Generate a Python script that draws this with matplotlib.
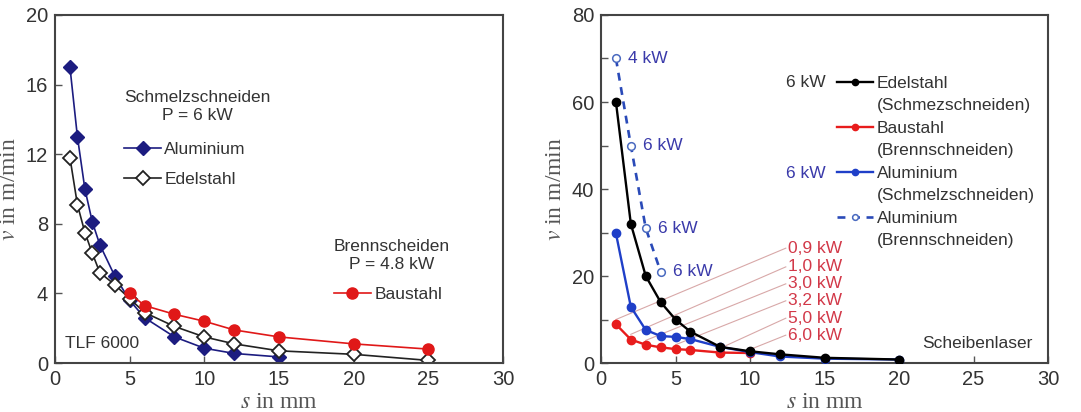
import matplotlib.pyplot as plt
from matplotlib.lines import Line2D

plt.rcParams['font.family'] = ['Liberation Sans', 'DejaVu Sans']
plt.rcParams['mathtext.fontset'] = 'stix'

# ---- left panel data (TLF 6000) ----
s_alu = [1, 1.5, 2, 2.5, 3, 4, 5, 6, 8, 10, 12, 15]
v_alu = [17.0, 13.0, 10.0, 8.1, 6.8, 5.0, 3.6, 2.6, 1.5, 0.85, 0.55, 0.35]
s_edel = [1, 1.5, 2, 2.5, 3, 4, 5, 6, 8, 10, 12, 15, 20, 25]
v_edel = [11.8, 9.1, 7.5, 6.3, 5.2, 4.5, 3.7, 2.9, 2.1, 1.5, 1.1, 0.7, 0.5, 0.15]
s_bau = [5, 6, 8, 10, 12, 15, 20, 25]
v_bau = [4.0, 3.3, 2.8, 2.4, 1.9, 1.5, 1.1, 0.8]

# ---- right panel data (Scheibenlaser) ----
s_edel_r = [1, 2, 3, 4, 5, 6, 8, 10, 12, 15, 20]
v_edel_r = [60, 32, 20, 14, 10, 7.2, 3.7, 2.7, 2.0, 1.2, 0.8]
s_bau_r = [1, 2, 3, 4, 5, 6, 8, 10]
v_bau_r = [8.9, 5.4, 4.2, 3.6, 3.2, 3.0, 2.4, 2.3]
s_alu_r = [1, 2, 3, 4, 5, 6, 8, 10, 12, 15, 20]
v_alu_r = [29.8, 12.9, 7.6, 6.2, 6.0, 5.5, 3.7, 2.5, 1.5, 1.0, 0.8]
s_alu_b = [1, 2, 3, 4]
v_alu_b = [70, 50, 31, 21]
alu_b_power = ['4 kW', '6 kW', '6 kW', '6 kW']

bau_power = ['0,9 kW', '1,0 kW', '3,0 kW', '3,2 kW', '5,0 kW', '6,0 kW']
bau_label_y = [26.4, 22.1, 18.2, 14.3, 10.3, 6.4]
bau_leader_s = [1, 2, 3, 5, 8, 10]
bau_leader_v = [10, 6.6, 5.2, 4.2, 3.4, 3.1]

txt = '#333333'
fig = plt.figure(figsize=(10.81, 4.12), dpi=100)
ax1 = fig.add_axes([0.0509, 0.1189, 0.4144, 0.8447])
ax2 = fig.add_axes([0.556, 0.1189, 0.4135, 0.8447])


def style(ax, ymax, ystep, ylabstep):
    ax.set_xlim(0, 30)
    ax.set_ylim(0, ymax)
    ax.set_xticks(range(0, 31, 5))
    yt = list(range(0, ymax + 1, ystep))
    ax.set_yticks(yt)
    ax.set_yticklabels([str(t) if t % ylabstep == 0 else '' for t in yt])
    ax.tick_params(direction='in', length=5, width=1, colors='#555555',
                   labelcolor=txt, labelsize=14.5, pad=5)
    for sp in ax.spines.values():
        sp.set_color('#444444')
        sp.set_linewidth(1.5)
    ax.set_xlabel('$s$ in mm', family='Liberation Serif', fontsize=17,
                  color='#555555', labelpad=2)
    ax.set_ylabel('$v$ in m/min', family='Liberation Serif', fontsize=17,
                  color='#555555', labelpad=4)


style(ax1, 20, 4, 4)
style(ax2, 80, 10, 20)

# left panel
navy = '#1c1c80'
l_alu, = ax1.plot(s_alu, v_alu, color=navy, marker='D', ms=7, lw=1.2,
                  label='Aluminium')
l_edel, = ax1.plot(s_edel, v_edel, color='#222222', marker='D', ms=7,
                   mfc='white', mec='#222222', mew=1.3, lw=1.2, label='Edelstahl')
l_bau, = ax1.plot(s_bau, v_bau, color='#e01818', marker='o', ms=8, lw=1.2,
                  label='Baustahl')

leg1 = ax1.legend(handles=[l_alu, l_edel], title='Schmelzschneiden\nP = 6 kW',
                  loc='upper left', bbox_to_anchor=(0.12, 0.828), frameon=False,
                  fontsize=12.5, title_fontsize=12.5, handlelength=2.1,
                  handletextpad=0.2, labelspacing=0.85)
leg1._legend_box.align = 'left'
leg1._legend_box.sep = 14  # a bit more room under the title
for t in leg1.get_texts():
    t.set_color(txt)
leg1.get_title().set_color(txt)
leg1.get_title().set_multialignment('center')
ax1.add_artist(leg1)

leg2 = ax1.legend(handles=[l_bau], title='Brennscheiden\nP = 4.8 kW',
                  loc='upper left', bbox_to_anchor=(0.588, 0.4), frameon=False,
                  fontsize=12.5, title_fontsize=12.5, handlelength=2.1,
                  handletextpad=0.25, labelspacing=0.85)
leg2._legend_box.align = 'left'
for t in leg2.get_texts():
    t.set_color(txt)
leg2.get_title().set_color(txt)
leg2.get_title().set_multialignment('center')

ax1.text(0.022, 0.057, 'TLF 6000', transform=ax1.transAxes, fontsize=12.5,
         color=txt, va='center', ha='left')

# right panel
blue = '#1f3fc8'
r_edel, = ax2.plot(s_edel_r, v_edel_r, color='black', marker='o', ms=6, lw=1.7,
                   zorder=4)
r_bau, = ax2.plot(s_bau_r, v_bau_r, color='#e81c1c', marker='o', ms=6, lw=1.7,
                  zorder=3)
r_alu, = ax2.plot(s_alu_r, v_alu_r, color=blue, marker='o', ms=6, lw=1.7,
                  zorder=3)
r_alub, = ax2.plot(s_alu_b, v_alu_b, color='#2a4ab8', ls=(0, (3, 2.5)), lw=1.9,
                   marker='o', ms=5.5, mfc='white', mec='#4a6ac0', mew=1.1,
                   zorder=3)

for s, v, p in zip(s_alu_b, v_alu_b, alu_b_power):
    ax2.annotate(p, (s, v), xytext=(9, 0), textcoords='offset points',
                 fontsize=12.5, color='#3a3aaa', va='center', ha='left')

for s, v, y, p in zip(bau_leader_s, bau_leader_v, bau_label_y, bau_power):
    ax2.plot([s, 12.4], [v, y], color='#d8a8a8', lw=0.8, zorder=1)
    ax2.text(12.55, y, p, fontsize=12.5, color='#d23848', va='center', ha='left')

blank = Line2D([], [], color='none')
handles = [r_edel, blank, r_bau, blank, r_alu, blank, r_alub, blank]
labels = ['Edelstahl', '(Schmezschneiden)', 'Baustahl', '(Brennschneiden)',
          'Aluminium', '(Schmelzschneiden)', 'Aluminium', '(Brennschneiden)']
leg3 = ax2.legend(handles, labels, loc='upper left', bbox_to_anchor=(0.492, 0.87),
                  frameon=False, fontsize=12.5, handlelength=2.1,
                  handletextpad=0.2, labelspacing=0.42, markerscale=0.75)
for t in leg3.get_texts():
    t.set_color(txt)

ax2.text(0.502, 0.805, '6 kW', transform=ax2.transAxes, fontsize=12.5,
         color=txt, ha='right', va='center')
ax2.text(0.502, 0.544, '6 kW', transform=ax2.transAxes, fontsize=12.5,
         color='#3a3aaa', ha='right', va='center')
ax2.text(0.966, 0.057, 'Scheibenlaser', transform=ax2.transAxes, fontsize=12.5,
         color=txt, ha='right', va='center')

fig.savefig('out.png', dpi=100)
